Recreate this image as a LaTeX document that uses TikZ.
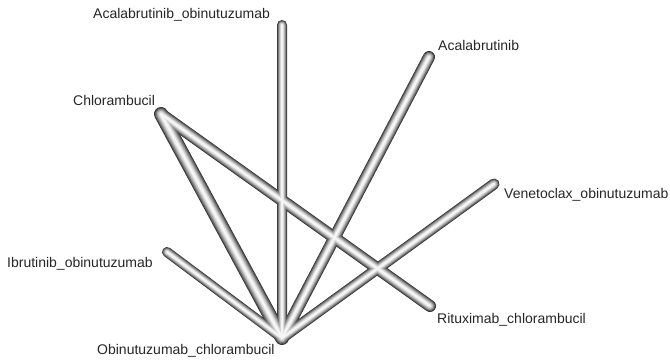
\documentclass[tikz,border=0pt]{standalone}
\usepackage{fontspec}
\setmainfont{Liberation Sans}
\definecolor{txt}{HTML}{262626}
\tikzset{
  lbl/.style={inner sep=0pt, anchor=base west, text=txt, font=\fontsize{14}{16}\selectfont},
}
\newcommand\tubeline[3]{%
  \foreach \f/\c in {1.0/80, 0.9/68, 0.8/57, 0.7/46, 0.6/36, 0.5/27, 0.4/19, 0.3/12, 0.2/6, 0.1/3}{
    \draw[line width=\f*#3pt, black!\c, line cap=round, blend mode=lighten] (#1) -- (#2);
  }}
\begin{document}
\begin{tikzpicture}[x=1pt,y=-1pt]
\useasboundingbox (0,0) rectangle (670,363);
% endpoints
\coordinate (pAO) at (282,25);
\coordinate (pA)  at (429,57);
\coordinate (pC)  at (161,114);
\coordinate (pV)  at (494,184);
\coordinate (pI)  at (167,252);
\coordinate (pR)  at (430,306);
\coordinate (pO)  at (282,338);
% tubes
\begin{scope}[transparency group]
\tubeline{pC}{pO}{14}
\tubeline{pC}{pR}{12}
\tubeline{pAO}{pO}{10}
\tubeline{pA}{pO}{12}
\tubeline{pV}{pO}{11}
\tubeline{pI}{pO}{10}
\end{scope}
% labels
\node[lbl] (lAO) at (93,19)  {Acalabrutinib\_obinutuzumab};
\node[lbl] (lA)  at (438,51) {Acalabrutinib};
\node[lbl] (lC)  at (73,106) {Chlorambucil};
\node[lbl] (lV)  at (504,199) {Venetoclax\_obinutuzumab};
\node[lbl] (lI)  at (7,268)  {Ibrutinib\_obinutuzumab};
\node[lbl] (lR)  at (437,324) {Rituximab\_chlorambucil};
\node[lbl] (lO)  at (97,355) {Obinutuzumab\_chlorambucil};
\end{tikzpicture}
\end{document}
